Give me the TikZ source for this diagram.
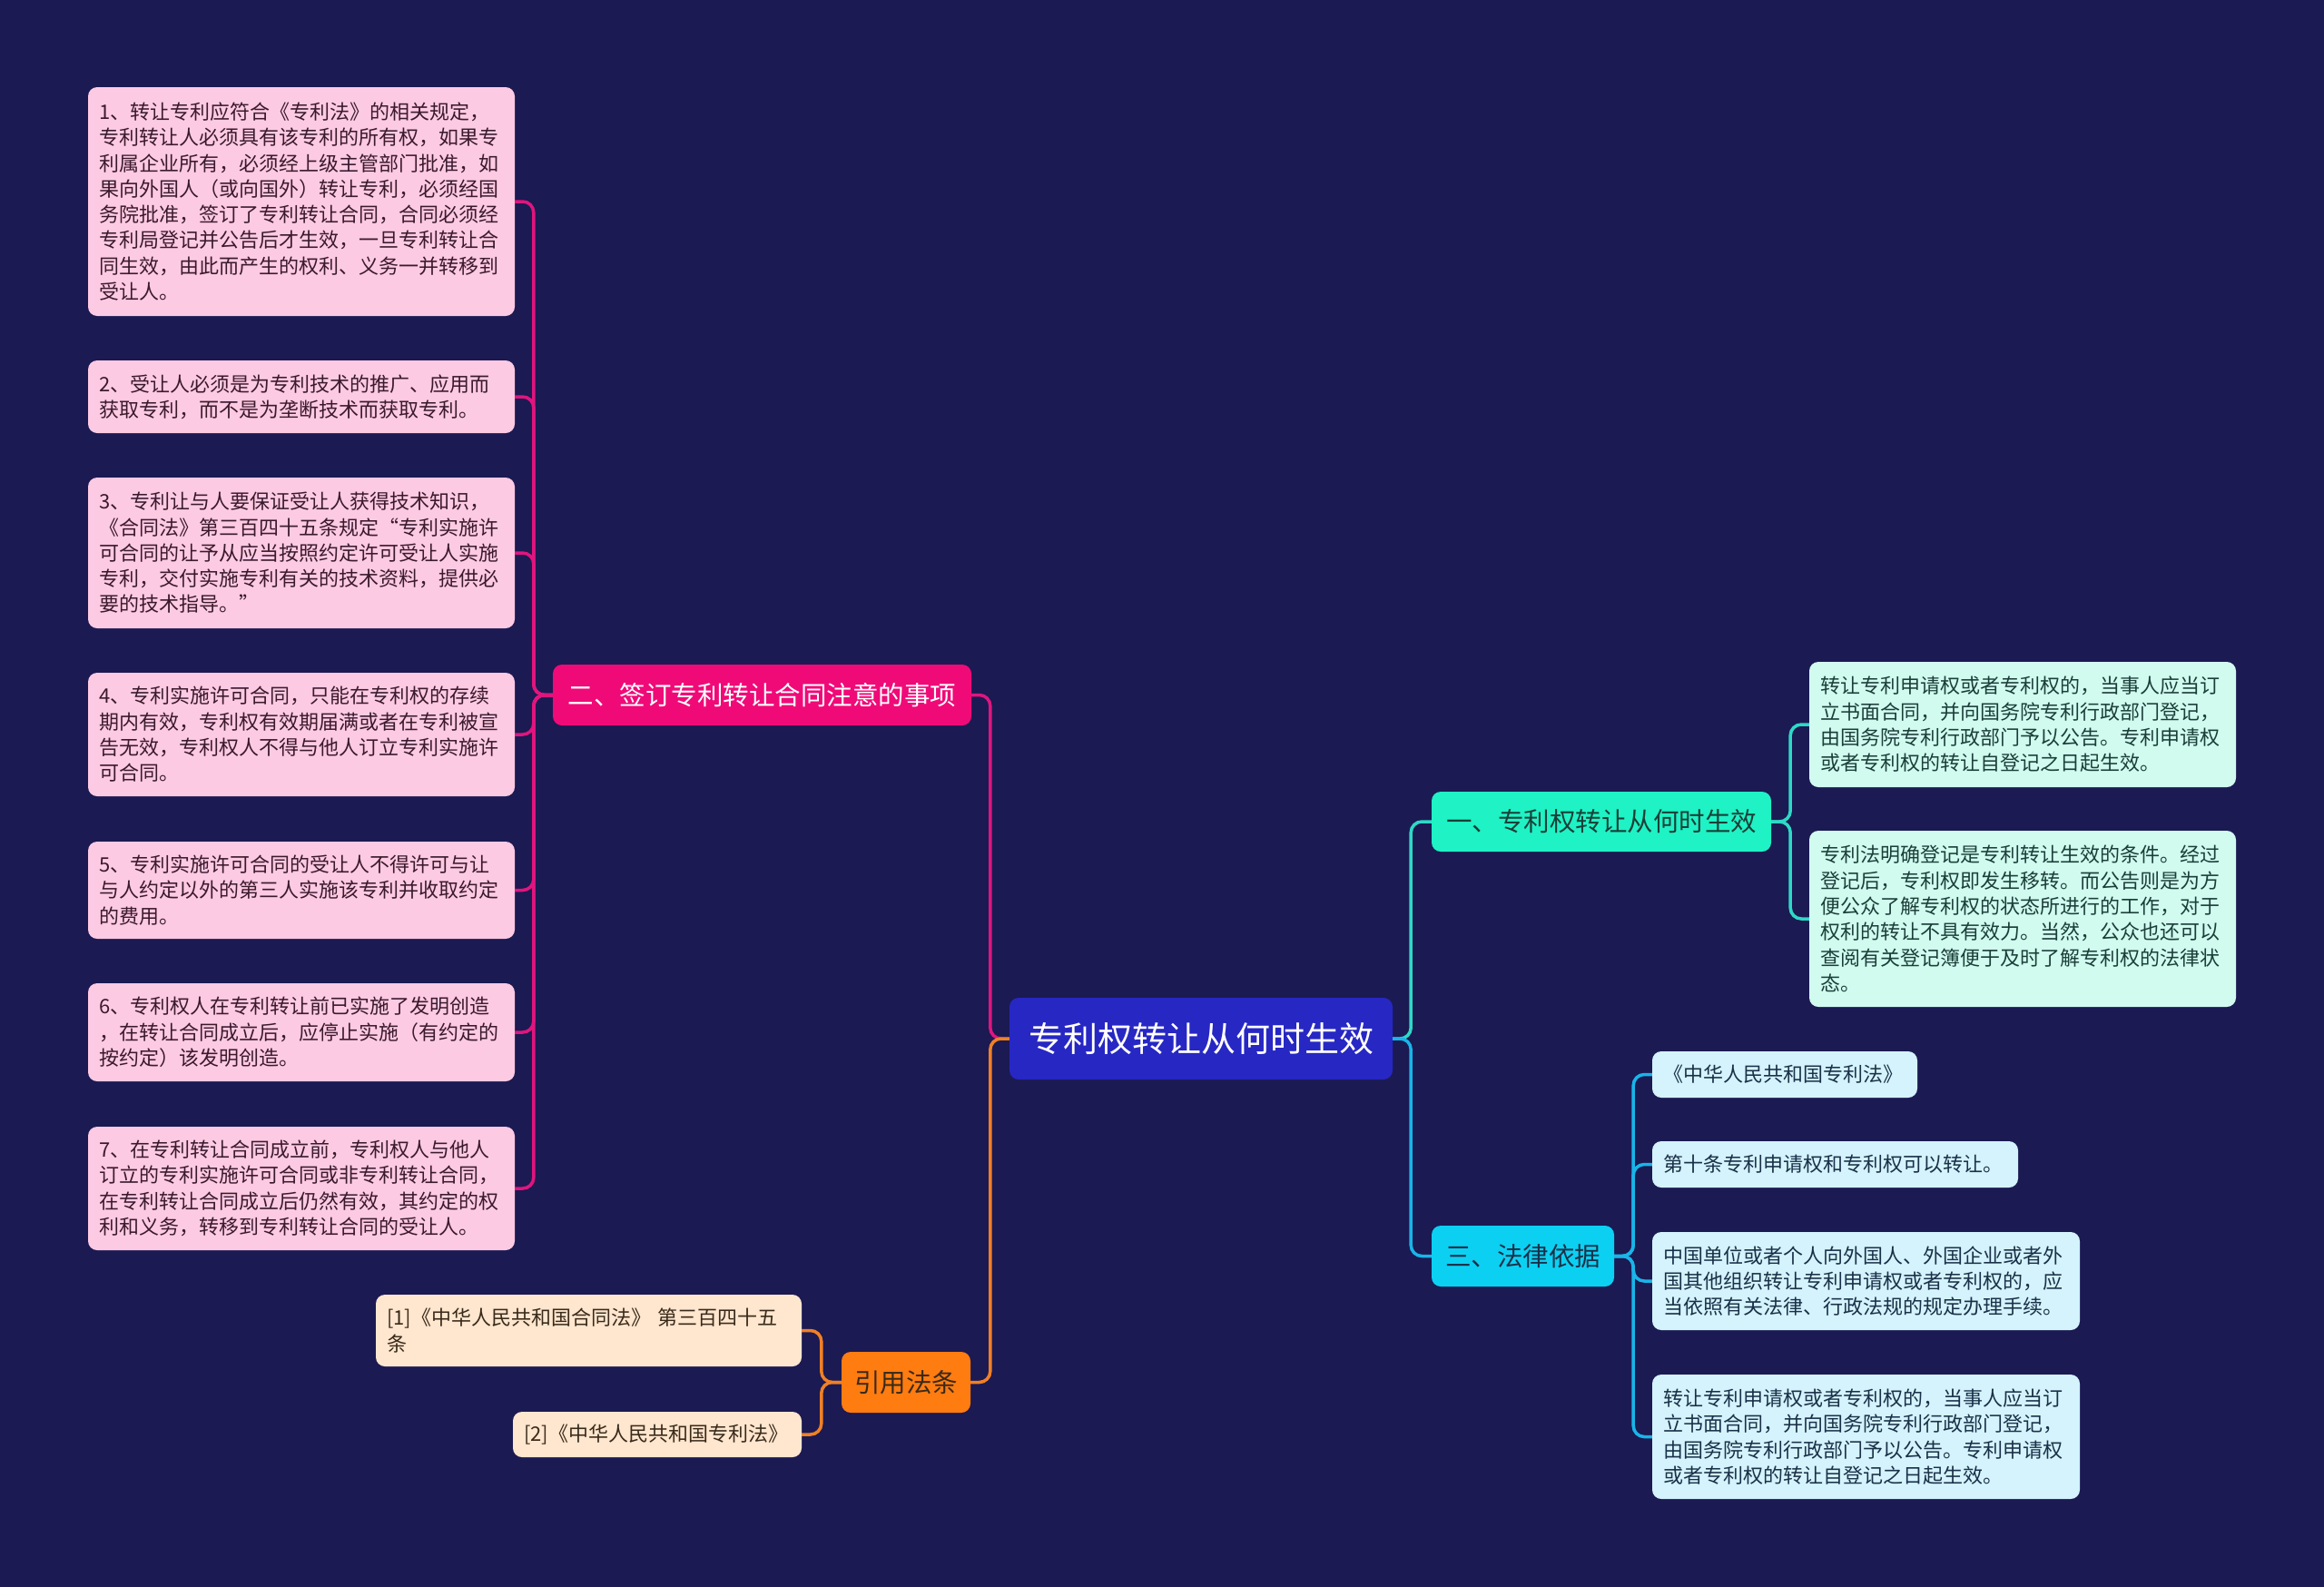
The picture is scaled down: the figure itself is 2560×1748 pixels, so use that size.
\documentclass[tikz,border=0pt]{standalone}
\usepackage{fontspec}
\setmainfont{Noto Sans CJK SC}
\definecolor{bgc}{HTML}{1B1A53}
\definecolor{rootc}{HTML}{2727C4}
\definecolor{pinkc}{HTML}{F00A78}
\definecolor{pinkleaf}{HTML}{FDCAE3}
\definecolor{pinktxt}{HTML}{3B1A2C}
\definecolor{pinkline}{HTML}{E0157E}
\definecolor{orangec}{HTML}{FF7C10}
\definecolor{orangeleaf}{HTML}{FEE6CF}
\definecolor{orangetxt}{HTML}{3A2A1A}
\definecolor{orangeline}{HTML}{F08026}
\definecolor{tealc}{HTML}{1FF2C4}
\definecolor{tealleaf}{HTML}{D2FBF0}
\definecolor{tealtxt}{HTML}{1A3F38}
\definecolor{tealline}{HTML}{2ED9C6}
\definecolor{cyanc}{HTML}{0CD0F2}
\definecolor{cyanleaf}{HTML}{D4F3FC}
\definecolor{cyantxt}{HTML}{1A3048}
\definecolor{cyanline}{HTML}{1AB4E8}
\tikzset{
  boxbase/.style={rounded corners=10pt, inner xsep=12pt, inner ysep=0pt, anchor=center},
  leafbox/.style={boxbase, align=left, font=\fontsize{22}{28.3}\selectfont},
  branchbox/.style={boxbase, align=center, font=\fontsize{28.5}{34}\selectfont},
  conn/.style={line width=3.5pt, rounded corners=12pt},
}
\begin{document}
\begin{tikzpicture}[x=1pt,y=-1pt]
\useasboundingbox (0,0) rectangle (2560,1748);
\fill[bgc] (0,0) rectangle (2560,1748);

% root
\node[boxbase, fill=rootc, text=white, minimum width=422pt, minimum height=90pt, font=\fontsize{38}{44}\selectfont] (root) at (1323,1144) {专利权转让从何时生效};

% branches
\node[branchbox, fill=pinkc, text=white, minimum width=461pt, minimum height=67pt] (b2) at (839.5,765.5) {二、签订专利转让合同注意的事项};
\node[branchbox, fill=orangec, text=orangetxt, minimum width=142pt, minimum height=67pt] (b4) at (998,1522.5) {引用法条};
\node[branchbox, fill=tealc, text=tealtxt, minimum width=374pt, minimum height=66pt] (b1) at (1764,905) {一、专利权转让从何时生效};
\node[branchbox, fill=cyanc, text=cyantxt, minimum width=201pt, minimum height=67pt] (b3) at (1677.5,1383.5) {三、法律依据};

% left leaves
\tikzset{pleaf/.style={leafbox, fill=pinkleaf, text=pinktxt, minimum width=470pt, text width=446pt}}
\node[pleaf, minimum height=252pt] (l1) at (332,222) {1、转让专利应符合《专利法》的相关规定，\\专利转让人必须具有该专利的所有权，如果专\\利属企业所有，必须经上级主管部门批准，如\\果向外国人（或向国外）转让专利，必须经国\\务院批准，签订了专利转让合同，合同必须经\\专利局登记并公告后才生效，一旦专利转让合\\同生效，由此而产生的权利、义务一并转移到\\受让人。};
\node[pleaf, minimum height=80pt] (l2) at (332,437) {2、受让人必须是为专利技术的推广、应用而\\获取专利，而不是为垄断技术而获取专利。};
\node[pleaf, minimum height=166pt] (l3) at (332,609) {3、专利让与人要保证受让人获得技术知识，\\《合同法》第三百四十五条规定“专利实施许\\可合同的让予从应当按照约定许可受让人实施\\专利，交付实施专利有关的技术资料，提供必\\要的技术指导。”};
\node[pleaf, minimum height=136pt] (l4) at (332,809) {4、专利实施许可合同，只能在专利权的存续\\期内有效，专利权有效期届满或者在专利被宣\\告无效，专利权人不得与他人订立专利实施许\\可合同。};
\node[pleaf, minimum height=107pt] (l5) at (332,980.5) {5、专利实施许可合同的受让人不得许可与让\\与人约定以外的第三人实施该专利并收取约定\\的费用。};
\node[pleaf, minimum height=108pt] (l6) at (332,1137) {6、专利权人在专利转让前已实施了发明创造\\，在转让合同成立后，应停止实施（有约定的\\按约定）该发明创造。};
\node[pleaf, minimum height=136pt] (l7) at (332,1309) {7、在专利转让合同成立前，专利权人与他人\\订立的专利实施许可合同或非专利转让合同，\\在专利转让合同成立后仍然有效，其约定的权\\利和义务，转移到专利转让合同的受让人。};

% references
\tikzset{oleaf/.style={leafbox, fill=orangeleaf, text=orangetxt}}
\node[oleaf, minimum width=469pt, text width=445pt, minimum height=79pt] (f1) at (648.5,1465.5) {[1]《中华人民共和国合同法》 第三百四十五\\条};
\node[oleaf, minimum width=318pt, text width=294pt, minimum height=50pt] (f2) at (724,1580) {[2]《中华人民共和国专利法》};

% right leaves of branch 1
\tikzset{tleaf/.style={leafbox, fill=tealleaf, text=tealtxt, minimum width=470pt, text width=446pt}}
\node[tleaf, minimum height=138pt] (r1) at (2228,798) {转让专利申请权或者专利权的，当事人应当订\\立书面合同，并向国务院专利行政部门登记，\\由国务院专利行政部门予以公告。专利申请权\\或者专利权的转让自登记之日起生效。};
\node[tleaf, minimum height=194pt] (r2) at (2228,1012) {专利法明确登记是专利转让生效的条件。经过\\登记后，专利权即发生移转。而公告则是为方\\便公众了解专利权的状态所进行的工作，对于\\权利的转让不具有效力。当然，公众也还可以\\查阅有关登记簿便于及时了解专利权的法律状\\态。};

% leaves of branch 3
\tikzset{cleaf/.style={leafbox, fill=cyanleaf, text=cyantxt}}
\node[cleaf, minimum width=292pt, text width=268pt, minimum height=51pt] (c1) at (1966,1183.5) {《中华人民共和国专利法》};
\node[cleaf, minimum width=403pt, text width=379pt, minimum height=51pt] (c2) at (2021.5,1282.5) {第十条专利申请权和专利权可以转让。};
\node[cleaf, minimum width=471pt, text width=447pt, minimum height=108pt] (c3) at (2055.5,1411) {中国单位或者个人向外国人、外国企业或者外\\国其他组织转让专利申请权或者专利权的，应\\当依照有关法律、行政法规的规定办理手续。};
\node[cleaf, minimum width=471pt, text width=447pt, minimum height=137pt] (c4) at (2055.5,1582.5) {转让专利申请权或者专利权的，当事人应当订\\立书面合同，并向国务院专利行政部门登记，\\由国务院专利行政部门予以公告。专利申请权\\或者专利权的转让自登记之日起生效。};

% connectors
\begin{scope}[on background layer/.style={}]
\draw[conn, pinkline] (root.west) -- ++(-21,0) |- (b2.east);
\draw[conn, orangeline] (root.west) -- ++(-21,0) |- (b4.east);
\draw[conn, tealline] (root.east) -- ++(20,0) |- (b1.west);
\draw[conn, cyanline] (root.east) -- ++(20,0) |- (b3.west);
\foreach \n in {l1,l2,l3,l4,l5,l6,l7}
  \draw[conn, pinkline] (b2.west) -- ++(-21,0) |- (\n.east);
\foreach \n in {f1,f2}
  \draw[conn, orangeline] (b4.west) -- ++(-22,0) |- (\n.east);
\foreach \n in {r1,r2}
  \draw[conn, tealline] (b1.east) -- ++(21,0) |- (\n.west);
\foreach \n in {c1,c2,c3,c4}
  \draw[conn, cyanline] (b3.east) -- ++(21,0) |- (\n.west);
\end{scope}
\end{tikzpicture}
\end{document}
